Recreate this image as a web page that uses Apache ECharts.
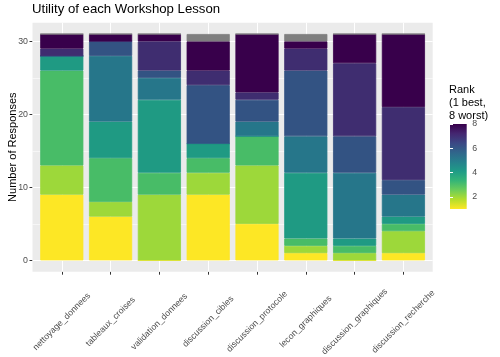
<!DOCTYPE html>
<html><head><meta charset="utf-8">
<script src="https://cdn.jsdelivr.net/npm/echarts@6/dist/echarts.min.js"></script>
<style>html,body{margin:0;padding:0;background:#fff}#c{width:500px;height:357px}</style>
</head><body><div id="c"></div>
<script>
const lessons = ['nettoyage_donnees','tableaux_croises','validation_donnees','discussion_cibles','discussion_protocole','lecon_graphiques','discussion_graphiques','discussion_recherche'];
const rank1 = [9,6,0,9,5,1,0,1];
const rank2 = [4,2,9,3,8,1,1,3];
const rank3 = [13,6,3,2,4,1,1,1];
const rank4 = [2,5,10,2,0,9,1,1];
const rank5 = [0,9,3,0,2,5,9,3];
const rank6 = [0,2,1,8,3,9,5,2];
const rank7 = [1,0,4,2,1,3,10,10];
const rank8 = [2,1,1,4,8,1,4,10];
const rankNA = [0,0,0,1,0,1,0,0];
const yTicks = [0,10,20,30];
const yMinor = [5,15,25];
const legendTicks = [2,4,6,8];

const rankValues = [rank1,rank2,rank3,rank4,rank5,rank6,rank7,rank8];
const rankColors = ['#FDE725','#9DD83A','#48BC67','#1F9A83','#26768A','#335383','#3F2D70','#38004B'];

// panel: x 32.5..432.7 covers 0.4..8.6 category units; bars grid covers 0.5..8.5
const panelL = 32.5, panelR = 432.7, unit = (panelR - panelL) / 8.2;
const barsL = panelL + 0.1 * unit, barsR = panelR - 0.1 * unit;

const series = rankValues.map((vals,k)=>({
  name: 'Rank ' + (k+1),
  type: 'bar', stack: 'total', barCategoryGap: '11.6%',
  xAxisIndex: 1, yAxisIndex: 1,
  itemStyle: {color: rankColors[k], borderColor: rankColors[k], borderWidth: 0.8},
  emphasis: {disabled: true},
  data: vals
}));
series.push({
  name: 'NA', type: 'bar', stack: 'total', barCategoryGap: '11.6%',
  xAxisIndex: 1, yAxisIndex: 1,
  itemStyle: {color: '#7F7F7F', borderColor: '#7F7F7F', borderWidth: 0.8}, emphasis: {disabled: true},
  data: rankNA
});
series[0].markLine = {
  silent: true, symbol: 'none', z: 1, animation: false,
  label: {show: false}, emphasis: {disabled: true},
  data: lessons.map(c=>({xAxis: c, lineStyle: {color:'#FFFFFF', width:1.1, type:'solid'}}))
};
series.push({
  name: 'grid', type: 'line', xAxisIndex: 0, yAxisIndex: 0, data: [], silent: true,
  markLine: {
    silent: true, symbol: 'none', z: 1, animation: false,
    label: {show: false}, emphasis: {disabled: true},
    data: [
      ...yMinor.map(v=>({yAxis: v, lineStyle: {color:'#FFFFFF', width:0.55, type:'solid'}})),
      ...yTicks.map(v=>({yAxis: v, lineStyle: {color:'#FFFFFF', width:1.1, type:'solid'}}))
    ]
  }
});

const viridis = ['#38004B','#442670','#3B4784','#30658B','#26808C','#1F9C87','#35B577','#6DCD59','#B4DE2C','#FDE725'];

const chart = echarts.init(document.getElementById('c'), null, {renderer:'canvas'});
chart.setOption({
  animation: false,
  textStyle: {fontFamily: 'Liberation Sans, Arial, sans-serif'},
  title: [
    {text: 'Utility of each Workshop Lesson', left: 32, top: 3, padding: 0,
     textStyle: {fontSize: 13.2, fontWeight: 'normal', color: '#000'}},
    {text: 'Rank\n(1 best,\n8 worst)', left: 449, top: 84, padding: 0,
     textStyle: {fontSize: 11, fontWeight: 'normal', color: '#000', lineHeight: 12.6}}
  ],
  grid: [
    {left: panelL, right: 500 - panelR, top: 22.7, bottom: 85.3, show: true, backgroundColor: '#EBEBEB', borderWidth: 0, containLabel: false, outerBoundsMode: 'none'},
    {left: barsL, right: 500 - barsR, top: 22.7, bottom: 85.3, show: false, containLabel: false, outerBoundsMode: 'none'},
    {left: 450, width: 16.7, top: 124, height: 85, show: true, borderWidth: 0, containLabel: false, outerBoundsMode: 'none',
     backgroundColor: {type:'linear', x:0, y:0, x2:0, y2:1,
       colorStops: viridis.map((c,i)=>({offset: i/(viridis.length-1), color: c}))}}
  ],
  xAxis: [
    {gridIndex: 0, type: 'value', min: 0.4, max: 8.6, show: false},
    {gridIndex: 1, type: 'category', data: lessons,
     axisLine: {show: false, onZero: false}, splitLine: {show: false},
     axisTick: {show: true, alignWithLabel: true, length: 3, lineStyle: {color: '#333333', width: 1}},
     axisLabel: {show: true, interval: 0, rotate: 45, align: 'center', verticalAlign: 'middle', margin: 50,
       fontSize: 8.8, color: '#4D4D4D', hideOverlap: false}},
    {gridIndex: 2, type: 'value', show: false, min: 0, max: 1}
  ],
  yAxis: [
    {gridIndex: 0, type: 'value', min: -1.55, max: 32.55,
     axisLine: {show: false}, splitLine: {show: false},
     axisTick: {show: true, customValues: yTicks, length: 3, lineStyle: {color: '#333333', width: 1}},
     axisLabel: {customValues: yTicks, fontSize: 8.8, color: '#4D4D4D', margin: 4.5},
     name: 'Number of Responses', nameLocation: 'middle', nameGap: 14, nameMoveOverlap: false,
     nameTextStyle: {fontSize: 11, color: '#000'}},
    {gridIndex: 1, type: 'value', min: -1.55, max: 32.55, show: false},
    {gridIndex: 2, type: 'value', min: 1, max: 8, position: 'right',
     axisLine: {show: false}, splitLine: {show: false},
     axisTick: {show: true, inside: true, customValues: legendTicks, length: 3, lineStyle: {color: '#FFFFFF', width: 1}},
     axisLabel: {customValues: legendTicks, fontSize: 8.8, color: '#4D4D4D', margin: 5.5}},
    {gridIndex: 2, type: 'value', min: 1, max: 8, position: 'left',
     axisLine: {show: false}, splitLine: {show: false},
     axisTick: {show: true, inside: true, customValues: legendTicks, length: 3, lineStyle: {color: '#FFFFFF', width: 1}},
     axisLabel: {show: false}}
  ],
  series: series
});
</script></body></html>
